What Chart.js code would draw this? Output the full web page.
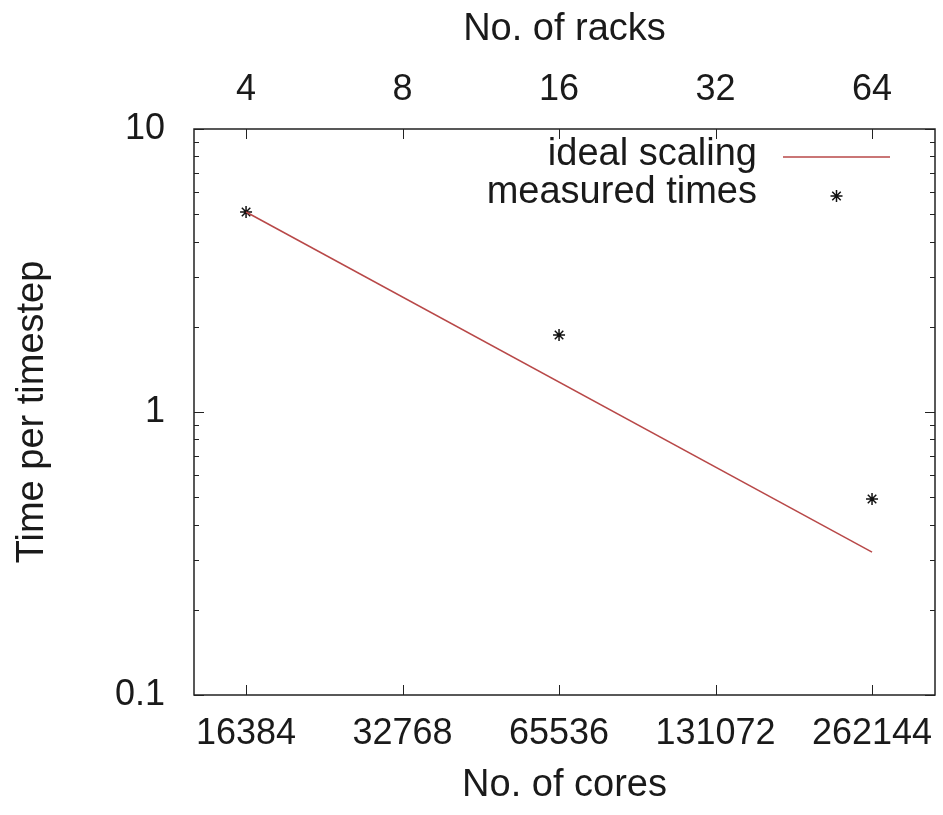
<!DOCTYPE html>
<html>
<head>
<meta charset="utf-8">
<script src="https://cdn.jsdelivr.net/npm/chart.js@4/dist/chart.umd.min.js"></script>
<style>
  html, body { margin: 0; padding: 0; background: #fff; }
  canvas { display: block; }
</style>
</head>
<body>
<canvas id="c" width="943" height="815"></canvas>
<script>
// Strong-scaling run: time per timestep against core count (log-log)
const cores = [16384, 65536, 262144];
const measuredTimes = [5.09, 1.87, 0.493];
const idealCores = [16384, 262144];
const idealTimes = [5.09, 0.32];

const coreTicks = [16384, 32768, 65536, 131072, 262144];
const rackTicks = [4, 8, 16, 32, 64];
const coresPerRack = 4096;
const timeTicks = [0.1, 1, 10];

const coreMin = 13010, coreMax = 346470;

const FONT = '"Liberation Sans", Arial, sans-serif';
const TEXT = '#1a1a1a';
const lineColor = '#b84848';

// minor ticks on the log time axis (2..9 in each decade)
const timeMinor = [];
for (let d = 0.1; d < 10; d *= 10) {
  for (let k = 2; k <= 9; k++) timeMinor.push(+(d * k).toFixed(3));
}

const measuredPoints = cores.map((x, i) => ({ x, y: measuredTimes[i] }));
const idealPoints = idealCores.map((x, i) => ({ x, y: idealTimes[i] }));

// horizontal axes: let edge labels overhang instead of shrinking the plot
const noEdgePadding = s => { s.paddingLeft = 0; s.paddingRight = 0; };

// Gnuplot-style frame: box with inward tick marks on all four sides
const framePlugin = {
  id: 'frame',
  afterDatasetsDraw(chart) {
    const { ctx, chartArea: a, scales } = chart;
    ctx.save();
    ctx.strokeStyle = '#222';
    ctx.lineWidth = 1.5;
    ctx.strokeRect(a.left, a.top, a.right - a.left, a.bottom - a.top);
    ctx.beginPath();
    const major = 10, minor = 5;
    timeTicks.forEach(v => {
      const y = Math.round(scales.y.getPixelForValue(v)) + 0.5;
      ctx.moveTo(a.left, y); ctx.lineTo(a.left + major, y);
      ctx.moveTo(a.right, y); ctx.lineTo(a.right - major, y);
    });
    timeMinor.forEach(v => {
      const y = Math.round(scales.y.getPixelForValue(v)) + 0.5;
      ctx.moveTo(a.left, y); ctx.lineTo(a.left + minor, y);
      ctx.moveTo(a.right, y); ctx.lineTo(a.right - minor, y);
    });
    coreTicks.forEach(v => {
      const x = Math.round(scales.x.getPixelForValue(v)) + 0.5;
      ctx.moveTo(x, a.bottom); ctx.lineTo(x, a.bottom - major);
    });
    rackTicks.forEach(v => {
      const x = Math.round(scales.x2.getPixelForValue(v)) + 0.5;
      ctx.moveTo(x, a.top); ctx.lineTo(x, a.top + major);
    });
    ctx.lineWidth = 1;
    ctx.stroke();
    ctx.restore();
  }
};

// Key in the top-right corner: right-aligned text with the sample to its right
const keyPlugin = {
  id: 'key',
  afterDraw(chart) {
    const { ctx } = chart;
    const textRight = 757, sampleL = 783, sampleR = 890;
    const textRows = [155, 193];
    const sampleRows = [157, 196];
    ctx.save();
    ctx.font = '38px ' + FONT;
    ctx.fillStyle = TEXT;
    ctx.textAlign = 'right';
    ctx.textBaseline = 'middle';
    chart.data.datasets.forEach((ds, i) => {
      ctx.fillText(ds.label, textRight, textRows[i]);
      const y = sampleRows[i];
      if (ds.showLine) {
        ctx.strokeStyle = ds.borderColor;
        ctx.lineWidth = ds.borderWidth;
        ctx.beginPath();
        ctx.moveTo(sampleL, y); ctx.lineTo(sampleR, y);
        ctx.stroke();
      } else {
        ctx.strokeStyle = ds.borderColor;
        ctx.fillStyle = ds.backgroundColor;
        Chart.helpers.drawPoint(ctx, {
          pointStyle: ds.pointStyle, radius: ds.pointRadius,
          borderWidth: ds.pointBorderWidth, rotation: 0
        }, (sampleL + sampleR) / 2, y);
        ctx.fillStyle = TEXT;
      }
    });
    ctx.restore();
  }
};

new Chart(document.getElementById('c'), {
  type: 'scatter',
  data: {
    datasets: [
      {
        label: 'ideal scaling',
        data: idealPoints,
        showLine: true,
        borderColor: lineColor,
        borderWidth: 1.5,
        pointRadius: 0,
        pointHoverRadius: 0,
        xAxisID: 'x', yAxisID: 'y'
      },
      {
        label: 'measured times',
        data: measuredPoints,
        showLine: false,
        pointStyle: 'star',
        pointRadius: 6,
        pointBorderWidth: 1.5,
        borderColor: '#111',
        backgroundColor: '#111',
        xAxisID: 'x', yAxisID: 'y'
      }
    ]
  },
  options: {
    responsive: false,
    devicePixelRatio: 1,
    animation: false,
    layout: { padding: { left: 0, right: 8, top: 0, bottom: 0 } },
    plugins: { legend: { display: false }, tooltip: { enabled: false } },
    scales: {
      x: {
        type: 'logarithmic',
        position: 'bottom',
        min: coreMin, max: coreMax,
        grid: { display: false, drawTicks: false },
        border: { display: false },
        afterBuildTicks: s => { s.ticks = coreTicks.map(v => ({ value: v })); },
        afterFit: s => { s.height = 120; noEdgePadding(s); },
        ticks: {
          color: TEXT, padding: 17, maxRotation: 0, autoSkip: false,
          font: { family: FONT, size: 36 },
          callback: v => String(v)
        },
        title: {
          display: true, text: 'No. of cores', color: TEXT,
          font: { family: FONT, size: 38 }, padding: { top: 0, bottom: 7 }
        }
      },
      x2: {
        type: 'logarithmic',
        position: 'top',
        min: coreMin / coresPerRack, max: coreMax / coresPerRack,
        grid: { display: false, drawTicks: false },
        border: { display: false },
        afterBuildTicks: s => { s.ticks = rackTicks.map(v => ({ value: v })); },
        afterFit: s => { s.height = 129; noEdgePadding(s); },
        ticks: {
          color: TEXT, padding: 17, maxRotation: 0, autoSkip: false,
          font: { family: FONT, size: 36 },
          callback: v => String(v)
        },
        title: {
          display: true, text: 'No. of racks', color: TEXT,
          font: { family: FONT, size: 38 }, padding: { top: 7, bottom: 0 }
        }
      },
      y: {
        type: 'logarithmic',
        position: 'left',
        min: 0.1, max: 10,
        grid: { display: false, drawTicks: false },
        border: { display: false },
        afterBuildTicks: s => { s.ticks = timeTicks.map(v => ({ value: v })); },
        afterFit: s => { s.width = 194; },
        ticks: {
          color: TEXT, padding: 29, autoSkip: false,
          font: { family: FONT, size: 36 },
          callback: v => String(v)
        },
        title: {
          display: true, text: 'Time per timestep', color: TEXT,
          font: { family: FONT, size: 38 }, padding: { top: 10, bottom: 0 }
        }
      }
    }
  },
  plugins: [framePlugin, keyPlugin]
});
</script>
</body>
</html>
